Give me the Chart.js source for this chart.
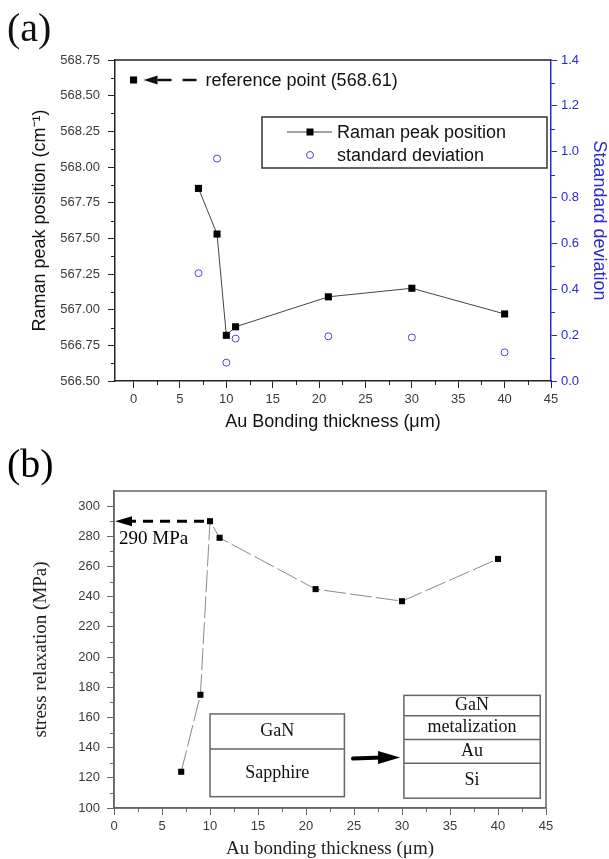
<!DOCTYPE html>
<html>
<head>
<meta charset="utf-8">
<script src="https://cdn.jsdelivr.net/npm/chart.js@4.4.1/dist/chart.umd.min.js"></script>
<style>
  html, body { margin: 0; padding: 0; background: #fff; }
  #chartA { position: absolute; left: 0; top: 0; }
  #chartB { position: absolute; left: 0; top: 440px; }
</style>
</head>
<body>
<canvas id="chartA" width="609" height="445"></canvas>
<canvas id="chartB" width="609" height="419"></canvas>
<script>
// panel (a) data
const thicknessA = [7, 9, 10, 11, 21, 30, 40];
const ramanPeak = [567.85, 567.53, 566.82, 566.88, 567.09, 567.15, 566.97];
const stdDeviation = [0.47, 0.97, 0.08, 0.185, 0.195, 0.19, 0.125];
const refThickness = [0];
const refPeak = [568.61];

// panel (b) data
const thicknessB = [7, 9, 10, 11, 21, 30, 40];
const stressRelax = [124, 175, 290, 279, 245, 237, 265];

// tick labels
const xTickValues = [0, 5, 10, 15, 20, 25, 30, 35, 40, 45];
const ramanTickValues = [566.5, 566.75, 567, 567.25, 567.5, 567.75, 568, 568.25, 568.5, 568.75];
const sdTickValues = [0, 0.2, 0.4, 0.6, 0.8, 1.0, 1.2, 1.4];
const stressTickValues = [100, 120, 140, 160, 180, 200, 220, 240, 260, 280, 300];

const SANS = "'Liberation Sans', Arial, sans-serif";
const SERIF = "'Liberation Serif', 'Times New Roman', serif";
const BLUE = '#2a2ad2';
const CIRCLE_BLUE = '#4848c8';

Chart.defaults.font.family = SANS;

const toPoints = (xs, ys) => xs.map((x, i) => ({ x: x, y: ys[i] }));

function minorTicks(ctx, scale, values, len, color) {
    ctx.save();
    ctx.strokeStyle = color;
    ctx.lineWidth = 1;
    ctx.beginPath();
    for (let i = 0; i < values.length - 1; i++) {
        const v = (values[i] + values[i + 1]) / 2;
        const p = Math.round(scale.getPixelForValue(v)) + 0.5;
        if (scale.isHorizontal()) {
            ctx.moveTo(p, scale.top); ctx.lineTo(p, scale.top + len);
        } else if (scale.position === 'left') {
            ctx.moveTo(scale.right, p); ctx.lineTo(scale.right - len, p);
        } else {
            ctx.moveTo(scale.left, p); ctx.lineTo(scale.left + len, p);
        }
    }
    ctx.stroke();
    ctx.restore();
}

function arrowHead(ctx, tipX, tipY, dir, len, half) {
    ctx.beginPath();
    ctx.moveTo(tipX, tipY);
    ctx.lineTo(tipX - dir * len, tipY - half);
    ctx.lineTo(tipX - dir * len, tipY + half);
    ctx.closePath();
    ctx.fill();
}

// extras for panel (a): frame, minor ticks, legend, reference note
const decorA = {
    id: 'decorA',
    afterDraw(chart) {
        const { ctx, chartArea: area, scales } = chart;
        ctx.save();
        // top frame
        ctx.strokeStyle = '#222';
        ctx.lineWidth = 1.5;
        ctx.beginPath();
        ctx.moveTo(area.left, area.top);
        ctx.lineTo(area.right, area.top);
        ctx.stroke();

        minorTicks(ctx, scales.x, xTickValues, 4, '#222');
        minorTicks(ctx, scales.y, ramanTickValues, 4, '#222');
        minorTicks(ctx, scales.y2, sdTickValues, 4, BLUE);

        // reference point note
        const px = scales.x.getPixelForValue(refThickness[0]);
        const py = scales.y.getPixelForValue(refPeak[0]);
        ctx.fillStyle = '#111';
        arrowHead(ctx, px + 10, py, -1, 14, 4.5);
        ctx.strokeStyle = '#111';
        ctx.lineWidth = 2.5;
        ctx.setLineDash([14, 11]);
        ctx.beginPath();
        ctx.moveTo(px + 24, py);
        ctx.lineTo(px + 63, py);
        ctx.stroke();
        ctx.setLineDash([]);
        ctx.font = '18px ' + SANS;
        ctx.textBaseline = 'middle';
        ctx.fillText('reference point (' + refPeak[0].toFixed(2) + ')', px + 72, py + 1);

        // legend box
        const ds = chart.data.datasets;
        const lx = area.left + 147, ly = area.top + 57, lw = 285, lh = 51;
        ctx.strokeStyle = '#333';
        ctx.lineWidth = 1.5;
        ctx.strokeRect(lx, ly, lw, lh);
        const r1 = ly + 15, r2 = ly + 38, mx = lx + 48;
        ctx.strokeStyle = ds[0].borderColor;
        ctx.lineWidth = 1;
        ctx.beginPath();
        ctx.moveTo(lx + 25, r1); ctx.lineTo(lx + 70, r1);
        ctx.stroke();
        ctx.fillStyle = '#000';
        ctx.fillRect(mx - 3.5, r1 - 3.5, 7, 7);
        ctx.strokeStyle = ds[2].borderColor;
        ctx.beginPath();
        ctx.arc(mx, r2, 3.5, 0, Math.PI * 2);
        ctx.stroke();
        ctx.fillStyle = '#111';
        ctx.font = '18px ' + SANS;
        ctx.fillText(ds[0].label, lx + 75, r1 + 1);
        ctx.fillText(ds[2].label, lx + 75, r2 + 1);

        // panel label
        ctx.font = '40px ' + SERIF;
        ctx.textBaseline = 'alphabetic';
        ctx.fillText('(a)', 7, 41);
        ctx.restore();
    }
};

new Chart(document.getElementById('chartA'), {
    type: 'scatter',
    data: {
        datasets: [{
            label: 'Raman peak position',
            data: toPoints(thicknessA, ramanPeak),
            showLine: true,
            borderColor: '#444',
            borderWidth: 1,
            pointStyle: 'rect',
            pointRadius: 5,
            pointBackgroundColor: '#000',
            pointBorderColor: '#000',
            pointBorderWidth: 0,
            yAxisID: 'y'
        }, {
            label: 'reference point',
            data: toPoints(refThickness, refPeak),
            pointStyle: 'rect',
            pointRadius: 5,
            pointBackgroundColor: '#000',
            pointBorderColor: '#000',
            pointBorderWidth: 0,
            yAxisID: 'y'
        }, {
            label: 'standard deviation',
            data: toPoints(thicknessA, stdDeviation),
            pointStyle: 'circle',
            pointRadius: 3.5,
            pointBackgroundColor: 'rgba(255,255,255,0)',
            borderColor: CIRCLE_BLUE,
            pointBorderColor: CIRCLE_BLUE,
            pointBorderWidth: 1,
            yAxisID: 'y2'
        }]
    },
    options: {
        responsive: false,
        animation: false,
        layout: { padding: { top: 60, left: 0, right: 0, bottom: 0 } },
        plugins: { legend: { display: false }, tooltip: { enabled: false } },
        scales: {
            x: {
                type: 'linear', position: 'bottom', min: -2, max: 45,
                afterBuildTicks: s => { s.ticks = xTickValues.map(v => ({ value: v })); },
                afterFit: s => { s.height = 64; },
                grid: { drawOnChartArea: false, tickLength: 7, color: '#222' },
                border: { color: '#222', width: 1.5 },
                ticks: { color: '#3a3a3a', font: { size: 13 }, padding: 4, maxRotation: 0 },
                title: { display: true, text: 'Au Bonding thickness (\u03bcm)', color: '#111',
                         font: { size: 18 }, padding: { top: 0, bottom: 12 } }
            },
            y: {
                type: 'linear', position: 'left', min: 566.5, max: 568.75,
                afterBuildTicks: s => { s.ticks = ramanTickValues.map(v => ({ value: v })); },
                afterFit: s => { s.width = 115; },
                grid: { drawOnChartArea: false, tickLength: 7, color: '#222' },
                border: { color: '#222', width: 1.5 },
                ticks: { color: '#3a3a3a', font: { size: 13 }, padding: 8, callback: v => v.toFixed(2) },
                title: { display: true, text: 'Raman peak position (cm\u207b\u00b9)', color: '#111',
                         font: { size: 18 }, padding: { top: 29, bottom: 0 } }
            },
            y2: {
                type: 'linear', position: 'right', min: 0, max: 1.4,
                afterBuildTicks: s => { s.ticks = sdTickValues.map(v => ({ value: v })); },
                afterFit: s => { s.width = 58; },
                grid: { drawOnChartArea: false, tickLength: 6, color: BLUE },
                border: { color: BLUE, width: 1.5 },
                ticks: { color: BLUE, font: { size: 13 }, padding: 4, callback: v => v.toFixed(1) },
                title: { display: true, text: 'Staandard deviation', color: BLUE,
                         font: { size: 18 }, padding: { top: -1, bottom: 0 } }
            }
        }
    },
    plugins: [decorA]
});

// layer stack sketches for panel (b), in data units
const layerBoxes = [
    { x0: 10, x1: 24, edges: [162.3, 139.1, 107.5], labels: ['GaN', 'Sapphire'] },
    { x0: 30.2, x1: 44.4, edges: [174.6, 161.1, 145.4, 129.7, 106.5], labels: ['GaN', 'metalization', 'Au', 'Si'] }
];
const boxArrow = { x0: 24.9, x1: 29.8, y: 133.4 };

const decorB = {
    id: 'decorB',
    afterDraw(chart) {
        const { ctx, chartArea: area, scales } = chart;
        const xs = scales.x, ys = scales.y;
        ctx.save();
        ctx.strokeStyle = '#666';
        ctx.lineWidth = 1.5;
        ctx.strokeRect(area.left, area.top, area.right - area.left, area.bottom - area.top);

        minorTicks(ctx, xs, xTickValues, 4, '#666');
        minorTicks(ctx, ys, stressTickValues, 4, '#666');

        // 290 MPa arrow
        const peakIdx = stressRelax.indexOf(Math.max(...stressRelax));
        const px = xs.getPixelForValue(thicknessB[peakIdx]);
        const py = ys.getPixelForValue(stressRelax[peakIdx]);
        ctx.fillStyle = '#000';
        arrowHead(ctx, area.left + 1, py, -1, 17, 5);
        ctx.strokeStyle = '#000';
        ctx.lineWidth = 3;
        ctx.setLineDash([10, 7]);
        ctx.beginPath();
        ctx.moveTo(px - 6, py);
        ctx.lineTo(area.left + 18, py);
        ctx.stroke();
        ctx.setLineDash([]);
        ctx.font = '19px ' + SERIF;
        ctx.textBaseline = 'alphabetic';
        ctx.fillText(stressRelax[peakIdx] + ' MPa', area.left + 5, py + 23);

        // layer boxes
        ctx.font = '18px ' + SERIF;
        ctx.textAlign = 'center';
        ctx.textBaseline = 'middle';
        layerBoxes.forEach(b => {
            const x0 = xs.getPixelForValue(b.x0), x1 = xs.getPixelForValue(b.x1);
            const yp = b.edges.map(e => ys.getPixelForValue(e));
            ctx.strokeStyle = '#666';
            ctx.lineWidth = 1.5;
            ctx.strokeRect(x0, yp[0], x1 - x0, yp[yp.length - 1] - yp[0]);
            ctx.beginPath();
            for (let i = 1; i < yp.length - 1; i++) {
                ctx.moveTo(x0, yp[i]); ctx.lineTo(x1, yp[i]);
            }
            ctx.stroke();
            ctx.fillStyle = '#111';
            b.labels.forEach((t, i) => ctx.fillText(t, (x0 + x1) / 2, (yp[i] + yp[i + 1]) / 2));
        });

        // arrow between boxes
        const ax0 = xs.getPixelForValue(boxArrow.x0), ax1 = xs.getPixelForValue(boxArrow.x1);
        const ay = ys.getPixelForValue(boxArrow.y);
        ctx.strokeStyle = '#000';
        ctx.lineWidth = 4;
        ctx.lineCap = 'round';
        ctx.beginPath();
        ctx.moveTo(ax0, ay + 1);
        ctx.lineTo(ax1 - 18, ay);
        ctx.stroke();
        ctx.fillStyle = '#000';
        arrowHead(ctx, ax1, ay, 1, 22, 6.5);

        // panel label
        ctx.textAlign = 'left';
        ctx.textBaseline = 'alphabetic';
        ctx.font = '40px ' + SERIF;
        ctx.fillText('(b)', 7, 37);
        ctx.restore();
    }
};

new Chart(document.getElementById('chartB'), {
    type: 'scatter',
    data: {
        datasets: [{
            label: 'stress relaxation',
            data: toPoints(thicknessB, stressRelax),
            showLine: true,
            borderColor: '#8a8a8a',
            borderWidth: 1,
            borderDash: [22, 4],
            pointStyle: 'rect',
            pointRadius: 4.3,
            pointBackgroundColor: '#000',
            pointBorderColor: '#000',
            pointBorderWidth: 0
        }]
    },
    options: {
        responsive: false,
        animation: false,
        layout: { padding: { top: 51, left: 0, right: 63, bottom: 0 } },
        plugins: { legend: { display: false }, tooltip: { enabled: false } },
        scales: {
            x: {
                type: 'linear', position: 'bottom', min: 0, max: 45,
                afterBuildTicks: s => { s.ticks = xTickValues.map(v => ({ value: v })); },
                afterFit: s => { s.height = 51; },
                grid: { drawOnChartArea: false, tickLength: 7, color: '#666' },
                border: { color: '#666', width: 1.5 },
                ticks: { color: '#3a3a3a', font: { size: 13 }, padding: 4, maxRotation: 0 },
                title: { display: true, text: 'Au bonding thickness (\u03bcm)', color: '#222',
                         font: { size: 19, family: SERIF }, padding: { top: 0, bottom: -1 } }
            },
            y: {
                type: 'linear', position: 'left', min: 100, max: 310,
                afterBuildTicks: s => { s.ticks = stressTickValues.map(v => ({ value: v })); },
                afterFit: s => { s.width = 114; },
                grid: { drawOnChartArea: false, tickLength: 7, color: '#666' },
                border: { color: '#666', width: 1.5 },
                ticks: { color: '#3a3a3a', font: { size: 13 }, padding: 7 },
                title: { display: true, text: 'stress relaxation (MPa)', color: '#222',
                         font: { size: 19, family: SERIF }, padding: { top: 30, bottom: 0 } }
            }
        }
    },
    plugins: [decorB]
});
</script>
</body>
</html>
